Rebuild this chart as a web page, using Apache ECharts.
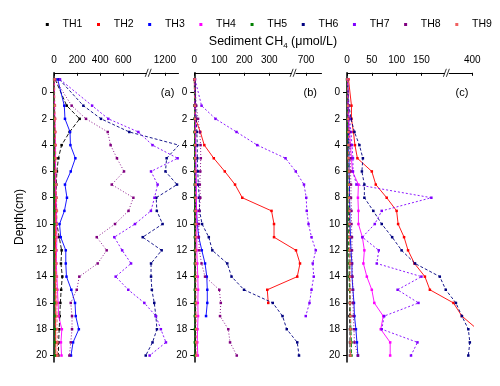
<!DOCTYPE html>
<html><head><meta charset="utf-8">
<script src="https://cdn.jsdelivr.net/npm/echarts@6/dist/echarts.min.js"></script>
<style>html,body{margin:0;padding:0;background:#fff}#c{width:500px;height:386px}</style>
</head><body><div id="c"></div>
<script>
// ---- data ----
const depths = [-1,1,2,3,4,5,6,7,8,9,10,11,12,13,14,15,16,17,18,19,20];
const names = ['TH1','TH2','TH3','TH4','TH5','TH6','TH7','TH8','TH9'];
const colors = ['#000000','#ff0000','#0000ff','#ff00ff','#008000','#000080','#8000ff','#800080','#f06060'];
const dashes = [[4,2],'solid','solid','solid',[4,2],[3,2],[2,2],[1,2],[3,2,1,2]];

// panel (a)
const A_TH1 = [10,110,222,135,66,38,25,20,18,20,25,45,66,60,72,62,55,50,45,40,38];
const A_TH2 = [2,4,5,6,8,8,10,10,12,14,15,14,12,15,15,14,16,15,14,15,16];
const A_TH3 = [32,89,95,139,142,185,145,95,112,90,48,58,102,102,108,150,182,188,215,165,147];
const A_TH4 = [3,5,8,10,12,12,14,15,18,20,22,25,22,20,25,30,35,40,68,60,65];
const A_TH5 = [1,2,2,3,3,3,4,4,4,5,5,5,5,6,6,6,6,7,7,7,8];
const A_TH6 = [46,254,407,652,1320,1215,1205,1305,1125,1130,1180,768,1172,1080,1080,1087,1108,1122,1131,1093,794];
const A_TH7 = [52,330,470,730,1093,1310,1080,1137,1110,1079,701,522,590,667,534,643,782,1122,1165,1209,1068];
const A_TH8 = [9,153,277,465,490,545,606,500,687,645,528,370,456,378,219,197,145,156,156,145,133];
const A_TH9 = [5,8,10,12,14,15,16,18,22,25,24,20,18,20,22,24,25,26,28,30,30];
// panel (b)
const B_TH1 = [1,1,2,2,2,2,3,3,3,3,3,4,4,4,5,5,5,5,4,4,4];
const B_TH2 = [0,2,5,24,40,78,122,163,192,309,319,319,660,676,665,292,296,null,null,null,null];
const B_TH3 = [1,2,3,4,5,5,6,6,7,9,12,18,30,43,50,52,52,47,null,null,null];
const B_TH4 = [1,3,4,5,6,6,7,8,8,9,10,10,10,12,14,15,14,15,13,12,14];
const B_TH5 = [0,1,1,1,1,1,1,2,2,2,2,2,2,2,2,2,2,2,2,2,2];
const B_TH6 = [2,5,8,10,12,12,14,16,20,21,31,58,72,132,149,199,314,353,370,665,672];
const B_TH7 = [3,29,85,169,252,365,659,692,701,703,710,722,739,727,731,722,714,699,null,null,null];
const B_TH8 = [2,8,15,22,25,26,24,22,24,20,18,18,20,29,43,100,106,103,136,143,170];
const B_TH9 = [1,2,3,3,4,4,4,5,5,5,6,6,6,6,7,7,7,7,8,8,8];
// panel (c)
const C_TH1 = [1,2,3,3,4,4,4,5,5,5,5,6,6,6,5,6,6,5,6,6,6];
const C_TH2 = [3,9,9,13,16,21,50,58,80,100,103,115,123,136,157,167,362,379,410,null,null];
const C_TH3 = [1,2,2,3,3,4,4,5,5,6,6,7,8,10,10,12,14,15,18,20,22];
const C_TH4 = [1,2,3,5,7,9,11,23,22,23,23,31,35,33,40,50,55,73,68,87,87];
const C_TH5 = [0,1,1,1,2,2,2,2,2,3,3,3,3,4,4,5,6,7,8,9,9];
const C_TH6 = [1,4,8,15,25,32,30,35,35,53,70,91,110,137,187,199,367,379,392,395,392];
const C_TH7 = [1,3,5,8,10,12,12,19,170,70,56,31,64,60,150,102,144,75,70,142,129];
const C_TH8 = [1,3,4,5,6,7,7,8,8,9,9,10,10,10,11,12,12,13,14,15,22];
const C_TH9 = [1,2,2,3,3,3,4,4,4,5,5,5,5,6,6,6,6,7,7,7,7];

// axis ticks
const xTicksA = [0,200,400,600,1200];
const xTicksB = [0,100,200,300,700];
const xTicksC = [0,50,100,150,400];
const yTicks = [0,2,4,6,8,10,12,14,16,18,20];
const panelLabels = ['(a)','(b)','(c)'];

// ---- chart ----
const FONT = '"Liberation Sans", Arial, sans-serif';
const panels = [
  {vals:[A_TH1,A_TH2,A_TH3,A_TH4,A_TH5,A_TH6,A_TH7,A_TH8,A_TH9], ticks:xTicksA, max:1316, brk:{start:815,end:1065,gap:10}, left:54, width:124.3},
  {vals:[B_TH1,B_TH2,B_TH3,B_TH4,B_TH5,B_TH6,B_TH7,B_TH8,B_TH9], ticks:xTicksB, max:760, brk:{start:395,end:653,gap:5}, left:194.3, width:126.7},
  {vals:[C_TH1,C_TH2,C_TH3,C_TH4,C_TH5,C_TH6,C_TH7,C_TH8,C_TH9], ticks:xTicksC, max:400, brk:{start:200,end:350,gap:2.5}, left:347, width:125.3}
];
const TOP = 72.8, HEIGHT = 289.3;

const grid = [], xAxis = [], yAxis = [], series = [];
panels.forEach((p, k) => {
  grid.push({left: p.left, top: TOP, width: p.width, height: HEIGHT, containLabel: false});
  xAxis.push({
    gridIndex: k, type: 'value', position: 'top', min: 0, max: p.max,
    breaks: [p.brk],
    breakArea: {show: false},
    axisLine: {show: true, onZero: false, lineStyle: {color: '#000', width: 1}},
    axisTick: {show: true, inside: true, length: 3, customValues: p.ticks, lineStyle: {color: '#000'}},
    axisLabel: {show: true, customValues: p.ticks, formatter: v => String(v), fontSize: 10, color: '#000', margin: 8, fontFamily: FONT},
    splitLine: {show: false}
  });
  yAxis.push({
    gridIndex: k, type: 'value', inverse: true, min: -1.5, max: 20.5,
    axisLine: {show: true, onZero: false, lineStyle: {color: '#000', width: 1.5}},
    axisTick: {show: true, inside: false, length: 4, customValues: yTicks, lineStyle: {color: '#000'}},
    axisLabel: {show: true, customValues: yTicks, formatter: v => String(v), fontSize: 10, color: '#000', margin: 7, fontFamily: FONT},
    splitLine: {show: false}
  });
  p.vals.forEach((arr, s) => {
    const data = [];
    arr.forEach((v, i) => { if (v != null) data.push([v, depths[i]]); });
    series.push({
      type: 'line', name: names[s], xAxisIndex: k, yAxisIndex: k, data,
      symbol: 'rect', symbolSize: 2.5, showSymbol: true,
      lineStyle: {color: colors[s], width: 0.9, type: dashes[s]},
      itemStyle: {color: colors[s]},
      emphasis: {disabled: true}, animation: false
    });
  });
});

const chart = echarts.init(document.getElementById('c'), null, {renderer: 'canvas'});
chart.setOption({
  backgroundColor: '#fff',
  animation: false,
  legend: {
    data: names, left: 45.8, top: 19, padding: 0,
    itemWidth: 3, itemHeight: 3, itemGap: 14.6, icon: 'rect',
    formatter: n => '   ' + n,
    textStyle: {fontSize: 10.5, color: '#000', fontFamily: FONT}
  },
  grid, xAxis, yAxis, series
});

// decorations: titles, panel labels, break marks
const gfx = [
  {type: 'text', x: 273, y: 42, style: {
    text: 'Sediment CH{s|4} (μmol/L)', font: '12.5px ' + FONT, fill: '#000',
    align: 'center', verticalAlign: 'middle',
    rich: {s: {fontSize: 8, padding: [7,0,0,0], fontFamily: FONT}}
  }},
  {type: 'text', x: 20, y: 217, rotation: Math.PI/2, style: {
    text: 'Depth(cm)', font: '12px ' + FONT, fill: '#000', align: 'center', verticalAlign: 'middle'
  }}
];
panels.forEach((p, k) => {
  const xs = chart.convertToPixel({xAxisIndex: k}, p.brk.start);
  const xe = chart.convertToPixel({xAxisIndex: k}, p.brk.end);
  const xm = (xs + xe) / 2;
  gfx.push({type: 'rect', shape: {x: xm - 2, y: TOP - 1.5, width: 4, height: 3}, style: {fill: '#fff'}, z: 100});
  gfx.push({type: 'line', shape: {x1: xm - 3.5, y1: TOP + 4, x2: xm - 0.5, y2: TOP - 4}, style: {stroke: '#000', lineWidth: 0.8}, z: 101});
  gfx.push({type: 'line', shape: {x1: xm - 0.5, y1: TOP + 4, x2: xm + 2.5, y2: TOP - 4}, style: {stroke: '#000', lineWidth: 0.8}, z: 101});
  gfx.push({type: 'text', x: p.left + p.width - 4, y: 92.5, style: {
    text: panelLabels[k], font: '11px ' + FONT, fill: '#000', align: 'right', verticalAlign: 'middle'
  }, z: 100});
});
chart.setOption({graphic: gfx});
</script></body></html>
